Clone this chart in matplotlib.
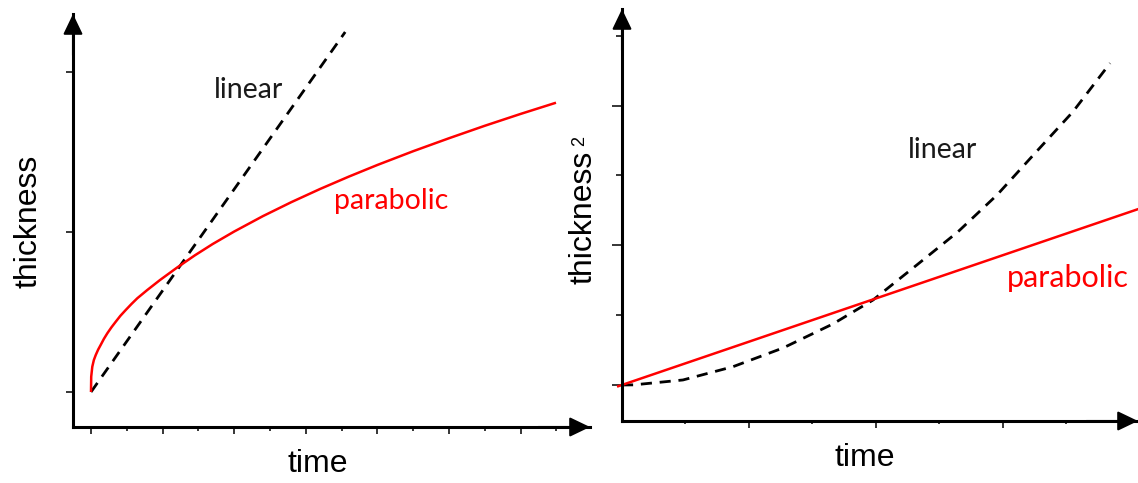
import numpy as np
import matplotlib.pyplot as plt

plt.rcParams['font.family'] = 'Liberation Sans'

# left: thickness against time
time_lin = [0.0, 3.55]
thick_lin = [0.0, 2.25]
time_par = [0.0, 0.003, 0.018, 0.04, 0.066, 0.1, 0.135, 0.18, 0.228, 0.285,
            0.345, 0.41, 0.485, 0.565, 0.647, 0.786, 0.964, 1.2, 1.45, 1.7,
            2.0, 2.4, 2.8, 3.2, 3.6, 4.0, 4.5, 5.0, 5.5, 6.0, 6.494]
thick_par = [0.0, 0.096, 0.158, 0.2, 0.231, 0.265, 0.294, 0.332, 0.367, 0.404,
             0.439, 0.476, 0.5125, 0.55, 0.586, 0.6375, 0.70, 0.777, 0.854, 0.925,
             1.003, 1.099, 1.187, 1.269, 1.346, 1.419, 1.505, 1.586, 1.664, 1.738,
             1.808]

# right: thickness squared against time
time2_par = [-0.03, 4.1]
sq_par = [-0.009, 1.27]
time2_lin = [0.0, 0.094, 0.48, 0.874, 1.268, 1.661, 1.976, 2.331, 2.646, 2.953,
             3.252, 3.551, 3.843]
sq_lin = [0.0, 0.001, 0.036, 0.131, 0.265, 0.437, 0.608, 0.866, 1.097, 1.36,
          1.659, 1.956, 2.303]

W, H = 1138, 483
RED = '#ff0000'
DASH = (0, (4, 2.8))


def box(x0, y0, x1, y1):
    return [x0 / W, 1 - y1 / H, (x1 - x0) / W, (y1 - y0) / H]


def fxy(x, y):
    return x / W, 1 - y / H


def style_axes(ax):
    for s in ['top', 'right']:
        ax.spines[s].set_visible(False)
    for s in ['left', 'bottom']:
        ax.spines[s].set_linewidth(2.2)
        ax.spines[s].set_capstyle('projecting')
    ax.tick_params(which='both', direction='out', width=1.1,
                   labelbottom=False, labelleft=False)
    for xy, xyt in [((1, 0), (0.9, 0)), ((0, 1), (0, 0.9))]:
        ax.annotate('', xy=xy, xytext=xyt, xycoords='axes fraction',
                    arrowprops=dict(arrowstyle='-|>,head_length=1.25,head_width=0.6',
                                    mutation_scale=10, color='black', lw=1.5,
                                    shrinkA=0, shrinkB=0),
                    annotation_clip=False)


fig = plt.figure(figsize=(W / 100, H / 100), dpi=100)

ax1 = fig.add_axes(box(73, 14, 590, 427))
ax1.plot(time_lin, thick_lin, color='black', lw=2, linestyle=DASH)
ax1.plot(time_par, thick_par, color=RED, lw=1.8, solid_capstyle='butt')
ax1.set_xlim(-0.2514, 6.969)
ax1.set_ylim(-0.21875, 2.3625)
style_axes(ax1)
ax1.set_xticks(np.arange(0, 7))
ax1.set_xticks(np.arange(0.5, 7, 1), minor=True)
ax1.set_yticks([0, 1, 2])
ax1.tick_params(axis='x', which='major', length=5)
ax1.tick_params(axis='x', which='minor', length=3)
ax1.tick_params(axis='y', which='major', length=5)

ax2 = fig.add_axes(box(622, 9, 1138, 421))
ax2.plot(time2_lin, sq_lin, color='black', lw=2, linestyle=DASH, clip_on=False)
ax2.plot(time2_par, sq_par, color=RED, lw=1.8, clip_on=False)
ax2.set_xlim(0, 4.063)
ax2.set_ylim(-0.2577, 2.691)
style_axes(ax2)
ax2.set_xticks([1, 2, 3])
ax2.set_xticks([0.5, 1.5, 2.5, 3.5], minor=True)
ax2.set_yticks([0, 1, 2])
ax2.set_yticks([0.5, 1.5, 2.5], minor=True)
ax2.tick_params(axis='x', which='major', length=5)
ax2.tick_params(axis='x', which='minor', length=2.2)
ax2.tick_params(axis='y', which='major', length=7)
ax2.tick_params(axis='y', which='minor', length=4.3)

# axis titles
fig.text(*fxy(317.5, 472), 'time', fontsize=23, ha='center', va='baseline')
fig.text(*fxy(865, 466), 'time', fontsize=23, ha='center', va='baseline')
fig.text(*fxy(36.5, 221), 'thickness', fontsize=23, rotation=90,
         rotation_mode='anchor', ha='center', va='baseline')
fig.text(*fxy(591, 217), 'thickness', fontsize=23, rotation=90,
         rotation_mode='anchor', ha='center', va='baseline')
fig.text(*fxy(584, 141), '2', fontsize=13, rotation=90,
         rotation_mode='anchor', ha='center', va='baseline')

# curve labels
fig.text(*fxy(249, 98), 'linear', fontsize=20.5, family='Lato', color='#1a1a1a',
         ha='center', va='baseline')
fig.text(*fxy(391.5, 209), 'parabolic', fontsize=20.5, family='Lato', color=RED,
         ha='center', va='baseline')
fig.text(*fxy(942.5, 158), 'linear', fontsize=20.5, family='Lato', color='#1a1a1a',
         ha='center', va='baseline')
fig.text(*fxy(1007, 287), 'parabolic', fontsize=22, family='Lato', color=RED,
         ha='left', va='baseline')

fig.savefig('out.png', dpi=100)
